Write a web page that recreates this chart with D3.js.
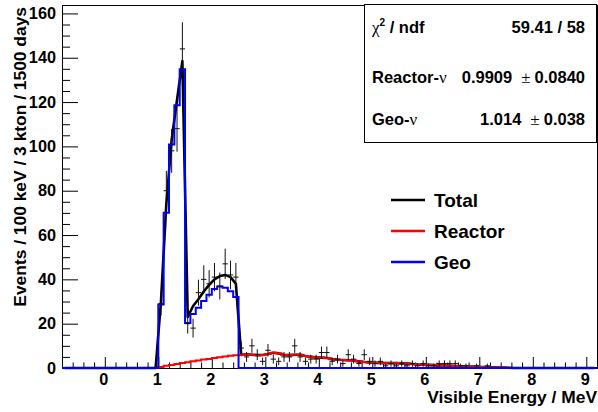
<!DOCTYPE html>
<html><head><meta charset="utf-8">
<script src="https://cdn.jsdelivr.net/npm/d3@7"></script>
<style>
body{margin:0;background:#fff}
svg{display:block}
text{font-family:"Liberation Sans",Arial,Helvetica,sans-serif;font-weight:bold;fill:#000}
</style>
</head><body><svg id="c" width="598" height="412"></svg>
<script>
// ---- data ----
const xDomain = [-0.8, 9.2];          // Visible energy range (MeV)
const yDomain = [0, 163.8];           // Events
const binWidth = 0.1;                 // 100 keV bins
const xMajorTicks = [0,1,2,3,4,5,6,7,8,9];
const yMajorTicks = [0,20,40,60,80,100,120,140,160];

// Geo-neutrino histogram, bins starting at 1.0 MeV
const geoStart = 1.0;
const geoValues = [28.7,70.1,100.9,118.6,134.8,20.3,24.4,27.2,30.2,33.1,35.6,36.8,36.2,34.6,32.0];

// Reactor histogram, bins starting at 1.0 MeV
const reactorStart = 1.0;
const reactorValues = [0.5,1.0,1.4,1.8,2.2,2.6,3.0,3.4,3.8,4.1,4.5,4.8,5.2,5.5,5.7,
  5.9,6.2,6.0,5.8,5.9,6.3,6.9,6.6,5.9,5.8,6.0,6.0,5.4,5.0,4.8,4.7,4.5,4.0,3.7,3.6,3.5,3.3,3.0,2.7,2.5,
  2.3,2.3,2.2,2.2,2.2,2.1,2.0,1.8,1.6,1.5,1.4,1.3,1.2,1.1,1.0,0.9,0.8,0.7,0.6,0.5,0.4,0.3,0.3,0.2,0.2,0.1];

// Total fit in the geo window (bin centres from 1.05 MeV); outside it total = reactor
const totalStart = 1.0;
const totalValues = [30,74,103,121,138.5,23,28,31,34.5,37.5,40,41.5,42,41,38];

// Data points (bin centres from 1.05 MeV), Poisson errors
const dataStart = 1.0;
const dataValues = [29,80,98,108,144,20,18,34,40,38,41,37,47,42,41,
  9,5,10,6,3,8,4,3,5,5,10,5,3,4,4,7,7,3,4,2,6,4,2,6,3,2,3,1,2,1,2,1,2,1,2,1,1,2,2,2,2,1,1,0,1,0,1];

const legendLabels = ["Total","Reactor","Geo"];
const legendColors = ["#000000","#ff0000","#0000ff"];

// ---- drawing ----
const svg = d3.select('#c');
const L=62, R=597, T=5, B=368;
const x = d3.scaleLinear().domain(xDomain).range([L,R]);
const y = d3.scaleLinear().domain(yDomain).range([B,T]);
const nBins = Math.round((xDomain[1]-xDomain[0])/binWidth);

function fullHist(start, vals){
  const out=[];
  for(let i=0;i<nBins;i++){
    const x0 = xDomain[0]+i*binWidth;
    const k = Math.round((x0-start)/binWidth);
    out.push({x0:x0, x1:x0+binWidth, v:(k>=0&&k<vals.length)?vals[k]:0, inRange:(k>=0&&k<vals.length)});
  }
  return out;
}
function stepPath(h){
  let d = `M${x(h[0].x0)},${y(h[0].v)}`;
  h.forEach((b,i)=>{
    if(i>0) d += `V${y(b.v)}`;
    d += `H${x(b.x1)}`;
  });
  return d;
}

const geoH = fullHist(geoStart, geoValues);
const reacH = fullHist(reactorStart, reactorValues);
const totH = fullHist(totalStart, totalValues);
const totalPts = totH.map((b,i)=>({c:(b.x0+b.x1)/2, v: b.inRange ? b.v : reacH[i].v}));

// frame
svg.append('rect').attr('x',L).attr('y',T).attr('width',R-L).attr('height',B-T)
  .attr('fill','none').attr('stroke','#000').attr('stroke-width',1).attr('shape-rendering','crispEdges');

// axes: major + minor ticks drawn inward
const gx = svg.append('g').attr('transform',`translate(0,${B})`);
gx.call(d3.axisBottom(x).tickValues(xMajorTicks).tickFormat(d3.format('d')).tickSizeInner(-11).tickSizeOuter(0).tickPadding(17));
gx.append('g').call(d3.axisBottom(x).tickValues(d3.range(-6,46).map(i=>i*0.2).filter(v=>Math.abs(v-Math.round(v))>1e-6 && v>xDomain[0] && v<xDomain[1])).tickFormat('').tickSizeInner(-5.5).tickSizeOuter(0));
const gy = svg.append('g').attr('transform',`translate(${L},0)`);
gy.call(d3.axisLeft(y).tickValues(yMajorTicks).tickFormat(d3.format('d')).tickSizeInner(-16).tickSizeOuter(0).tickPadding(21));
gy.append('g').call(d3.axisLeft(y).tickValues(d3.range(0,33).map(i=>i*5).filter(v=>v%20!==0 && v<yDomain[1])).tickFormat('').tickSizeInner(-8).tickSizeOuter(0));
svg.selectAll('.domain').remove();
svg.selectAll('.tick line').attr('stroke','#000').attr('stroke-width',1);
gx.selectAll('.tick text').attr('font-size',16.3).attr('font-family','Liberation Sans, Arial, sans-serif').attr('font-weight','bold').attr('dy',null).attr('y',17).attr('x',-1.5);
gy.selectAll('.tick text').attr('font-size',16.3).attr('font-family','Liberation Sans, Arial, sans-serif').attr('font-weight','bold').attr('x',-6);

// axis titles
svg.append('text').attr('x',597).attr('y',403).attr('text-anchor','end').attr('font-size',17.4).text('Visible Energy / MeV');
svg.append('text').attr('transform','translate(26,7) rotate(-90)').attr('text-anchor','end').attr('font-size',17.4).text('Events / 100 keV / 3 kton / 1500 days');

// total line
svg.append('path').attr('d', d3.line().x(d=>x(d.c)).y(d=>y(d.v))(totalPts))
  .attr('fill','none').attr('stroke','#000').attr('stroke-width',2.6).attr('stroke-linejoin','round');
// reactor
svg.append('path').attr('d', stepPath(reacH)).attr('fill','none').attr('stroke','#ff0000').attr('stroke-width',2);
// geo
svg.append('path').attr('d', stepPath(geoH)).attr('fill','none').attr('stroke','#0000ff').attr('stroke-width',2);

// data points
const dg = svg.append('g').attr('stroke','#111').attr('stroke-width',1);
dataValues.forEach((v,i)=>{
  if(v<=0) return;
  const c = dataStart + (i+0.5)*binWidth;
  const e = Math.sqrt(v);
  dg.append('line').attr('x1',x(c)).attr('x2',x(c)).attr('y1',y(v-e)).attr('y2',y(v+e));
  dg.append('line').attr('x1',x(c-binWidth/2)).attr('x2',x(c+binWidth/2)).attr('y1',y(v)).attr('y2',y(v));
});

// legend
legendLabels.forEach((lab,i)=>{
  const yy = 200 + i*31;
  svg.append('line').attr('x1',391).attr('x2',425).attr('y1',yy).attr('y2',yy)
    .attr('stroke',legendColors[i]).attr('stroke-width',2.4);
  svg.append('text').attr('x',434).attr('y',yy).attr('dy','0.36em').attr('font-size',19).text(lab);
});

// stats box
svg.append('rect').attr('x',364.5).attr('y',4.5).attr('width',232).attr('height',138)
  .attr('fill','#fff').attr('stroke','#000').attr('stroke-width',1);
const serif = 'Liberation Serif, Times New Roman, serif';
const t0 = svg.append('text').attr('x',372).attr('y',33).attr('font-size',16.5);
t0.append('tspan').attr('font-family',serif).attr('font-weight','normal').attr('font-size',17).text('\u03c7');
t0.append('tspan').attr('font-size',10).attr('dy',-7).text('2');
t0.append('tspan').attr('dy',7).text(' / ndf');
const t1 = svg.append('text').attr('x',372).attr('y',83).attr('font-size',16.5);
t1.append('tspan').text('Reactor-');
t1.append('tspan').attr('font-family',serif).attr('font-weight','normal').attr('font-size',17).text('\u03bd');
const t2 = svg.append('text').attr('x',372).attr('y',125).attr('font-size',16.5);
t2.append('tspan').text('Geo-');
t2.append('tspan').attr('font-family',serif).attr('font-weight','normal').attr('font-size',17).text('\u03bd');

svg.append('text').attr('x',585).attr('y',33).attr('text-anchor','end').attr('font-size',16.5).text('59.41 / 58');
const statVals = [{y:83, v:'0.9909', e:'0.0840'},{y:125, v:'1.014', e:'0.038'}];
statVals.forEach(r=>{
  const t = svg.append('text').attr('x',585).attr('y',r.y).attr('text-anchor','end').attr('font-size',16.5);
  t.append('tspan').text(r.v);
  t.append('tspan').attr('dx',9).attr('font-family',serif).attr('font-weight','normal').attr('font-size',17).text('\u00b1');
  t.append('tspan').attr('dx',4).text(r.e);
});
</script>
</body></html>
